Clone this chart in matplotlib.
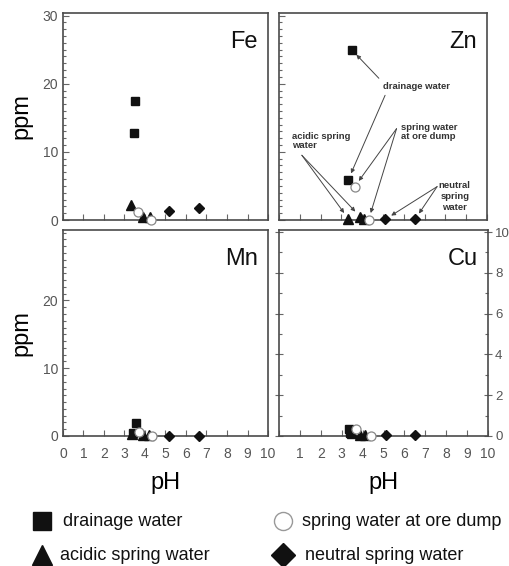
import matplotlib
matplotlib.use("Agg")
import matplotlib.pyplot as plt
from matplotlib.ticker import MultipleLocator, FixedLocator

plt.rcParams['font.family'] = ['Liberation Sans', 'DejaVu Sans']

# ---------------- data (pH, ppm) ----------------
fe_drain_ph = [3.50, 3.45]; fe_drain = [17.5, 12.8]
fe_acid_ph = [3.32, 3.92, 4.24]; fe_acid = [2.2, 0.5, 0.4]
fe_ore_ph = [3.64, 4.29]; fe_ore = [1.2, 0.05]
fe_neut_ph = [5.17, 6.62]; fe_neut = [1.3, 1.8]

zn_drain_ph = [3.49, 3.33]; zn_drain = [25.0, 5.9]
zn_acid_ph = [3.33, 3.90, 4.10]; zn_acid = [0.2, 0.5, 0.2]
zn_ore_ph = [3.64, 4.31]; zn_ore = [4.9, 0.05]
zn_neut_ph = [5.11, 6.54]; zn_neut = [0.1, 0.1]

mn_drain_ph = [3.56, 3.40]; mn_drain = [1.85, 0.4]
mn_acid_ph = [3.38, 3.90, 4.20]; mn_acid = [0.3, 0.1, 0.1]
mn_ore_ph = [3.70, 4.35]; mn_ore = [0.6, 0.0]
mn_neut_ph = [5.17, 6.62]; mn_neut = [0.05, 0.05]

cu_drain_ph = [3.35, 3.42]; cu_drain = [0.33, 0.15]
cu_acid_ph = [3.50, 3.86, 4.10]; cu_acid = [0.15, 0.05, 0.05]
cu_ore_ph = [3.70, 4.38]; cu_ore = [0.33, 0.02]
cu_neut_ph = [5.13, 6.52]; cu_neut = [0.05, 0.05]

series_names = ["drainage water", "acidic spring water",
                "spring water at ore dump", "neutral spring water"]
panel_names = ["Fe", "Zn", "Mn", "Cu"]

# ---------------- styles ----------------
FRAME = '#4a4a4a'
TICKC = '#666666'
sty = {
    "drain": dict(marker='s', ms=5.5, mfc='#111111', mec='#111111', ls='none'),
    "acid": dict(marker='^', ms=6.5, mfc='#111111', mec='#111111', ls='none'),
    "ore": dict(marker='o', ms=6.5, mfc='white', mec='#888888', mew=0.9, ls='none'),
    "neut": dict(marker='D', ms=5.5, mfc='#111111', mec='#111111', ls='none'),
}

fig = plt.figure(figsize=(5.10, 5.66), dpi=100)

lx, rx = 0.1235, 0.547
lw_, rw_ = 0.402, 0.410
ty, by = 0.6113, 0.2297
th, bh = 0.366, 0.364

ax_fe = fig.add_axes([lx, ty, lw_, th])
ax_zn = fig.add_axes([rx, ty, lw_ + 0.006, th])
ax_mn = fig.add_axes([lx, by, lw_, bh])
ax_cu = fig.add_axes([rx, by, rw_, bh])

data = {
    ax_fe: [(fe_drain_ph, fe_drain, "drain"), (fe_acid_ph, fe_acid, "acid"),
            (fe_ore_ph, fe_ore, "ore"), (fe_neut_ph, fe_neut, "neut")],
    ax_zn: [(zn_drain_ph, zn_drain, "drain"), (zn_acid_ph, zn_acid, "acid"),
            (zn_ore_ph, zn_ore, "ore"), (zn_neut_ph, zn_neut, "neut")],
    ax_mn: [(mn_drain_ph, mn_drain, "drain"), (mn_acid_ph, mn_acid, "acid"),
            (mn_ore_ph, mn_ore, "ore"), (mn_neut_ph, mn_neut, "neut")],
    ax_cu: [(cu_drain_ph, cu_drain, "drain"), (cu_acid_ph, cu_acid, "acid"),
            (cu_ore_ph, cu_ore, "ore"), (cu_neut_ph, cu_neut, "neut")],
}

for ax, name in zip([ax_fe, ax_zn, ax_mn, ax_cu], panel_names):
    for x, y, k in data[ax]:
        ax.plot(x, y, clip_on=False, zorder=3, **sty[k])
    ax.set_xlim(0, 10)
    for sp in ax.spines.values():
        sp.set_color(FRAME)
        sp.set_linewidth(1.2)
    ax.xaxis.set_major_locator(MultipleLocator(1))
    ax.tick_params(axis='both', which='both', direction='in', colors=TICKC,
                   labelcolor='#555555', labelsize=10, width=0.8)
    ax.tick_params(axis='x', which='major', length=4, top=False)
    ax.tick_params(axis='y', which='major', length=4)
    ax.tick_params(axis='y', which='minor', length=2.5)
    ax.text(0.95, 0.86, name, transform=ax.transAxes, ha='right', va='center',
            fontsize=17, color='#111111')

for ax in (ax_fe, ax_zn, ax_mn):
    ax.set_ylim(0, 30.4)
    ax.yaxis.set_major_locator(MultipleLocator(10))
    ax.yaxis.set_minor_locator(MultipleLocator(1))

ax_cu.set_ylim(0, 10.1)
ax_cu.yaxis.set_major_locator(MultipleLocator(2))
ax_cu.yaxis.set_minor_locator(MultipleLocator(1))
ax_cu.tick_params(axis='y', which='both', left=True, right=True,
                  labelleft=False, labelright=True, pad=2)
ax_cu.tick_params(axis='y', which='major', direction='inout', length=6,
                  labelsize=9.5)

# tick labels
ax_fe.tick_params(axis='x', labelbottom=False)
ax_zn.tick_params(axis='x', labelbottom=False)
ax_zn.tick_params(axis='y', labelleft=False)
ax_mn.yaxis.set_major_locator(FixedLocator([0, 10, 20]))
ax_cu.xaxis.set_major_locator(FixedLocator(list(range(1, 11))))
ax_cu.xaxis.set_minor_locator(FixedLocator([0]))
ax_cu.tick_params(axis='x', which='minor', direction='in', length=4)
for ax in (ax_mn, ax_cu):
    ax.tick_params(axis='x', pad=8)

ax_fe.set_ylabel("ppm", fontsize=17, labelpad=7)
ax_mn.set_ylabel("ppm", fontsize=17, labelpad=7)
ax_mn.set_xlabel("pH", fontsize=17, labelpad=8)
ax_cu.set_xlabel("pH", fontsize=17, labelpad=8)

# ---------------- Zn annotations ----------------
ann_txt = dict(fontsize=6.8, fontweight='bold', color='#333333')
arw = dict(arrowstyle='-|>', color='#444444', lw=0.7,
           mutation_scale=6, shrinkA=0, shrinkB=5)
ax_zn.text(6.6, 19.6, "drainage water", ha='center', va='center', **ann_txt)
ax_zn.annotate("", xy=(zn_drain_ph[0], zn_drain[0]), xytext=(4.8, 20.8), arrowprops=arw)
ax_zn.annotate("", xy=(zn_drain_ph[1], zn_drain[1]), xytext=(5.1, 18.3), arrowprops=arw)

ax_zn.text(5.85, 12.9, "spring water\nat ore dump", ha='left', va='center',
           linespacing=1.1, **ann_txt)
ax_zn.annotate("", xy=(zn_ore_ph[0], zn_ore[0]), xytext=(5.65, 13.4), arrowprops=arw)
ax_zn.annotate("", xy=(zn_ore_ph[1], zn_ore[1]), xytext=(5.65, 13.4), arrowprops=arw)

ax_zn.text(0.65, 11.6, "acidic spring\nwater", ha='left', va='center',
           linespacing=1.1, **ann_txt)
ax_zn.annotate("", xy=(zn_acid_ph[0], zn_acid[0]), xytext=(1.1, 9.5), arrowprops=arw)
ax_zn.annotate("", xy=(zn_acid_ph[1], zn_acid[1]), xytext=(1.1, 9.5), arrowprops=arw)

ax_zn.text(8.45, 3.4, "neutral\nspring\nwater", ha='center', va='center',
           linespacing=1.3, **ann_txt)
ax_zn.annotate("", xy=(zn_neut_ph[0], zn_neut[0]), xytext=(7.6, 4.9), arrowprops=arw)
ax_zn.annotate("", xy=(zn_neut_ph[1], zn_neut[1]), xytext=(7.6, 4.9), arrowprops=arw)

# ---------------- legend ----------------
lg = fig.add_axes([0, 0, 1, 1], facecolor='none')
lg.set_xlim(0, 1); lg.set_ylim(0, 1); lg.axis('off')
leg_pos = [(42 / 510, 1 - 521 / 566), (42 / 510, 1 - 555 / 566),
           (283 / 510, 1 - 521 / 566), (283 / 510, 1 - 555 / 566)]
leg_txt_x = [63 / 510, 60 / 510, 302 / 510, 305 / 510]
leg_sty = [dict(marker='s', ms=12.5, mfc='#111111', mec='#111111'),
           dict(marker='^', ms=14, mfc='#111111', mec='#111111'),
           dict(marker='o', ms=13, mfc='white', mec='#999999', mew=1.0),
           dict(marker='D', ms=12, mfc='#111111', mec='#111111')]
for (px, py), tx, st, nm in zip(leg_pos, leg_txt_x, leg_sty, series_names):
    lg.plot([px], [py], ls='none', **st)
    lg.text(tx, py, nm, ha='left', va='center', fontsize=13, color='#111111')

fig.savefig("out.png", dpi=100)
